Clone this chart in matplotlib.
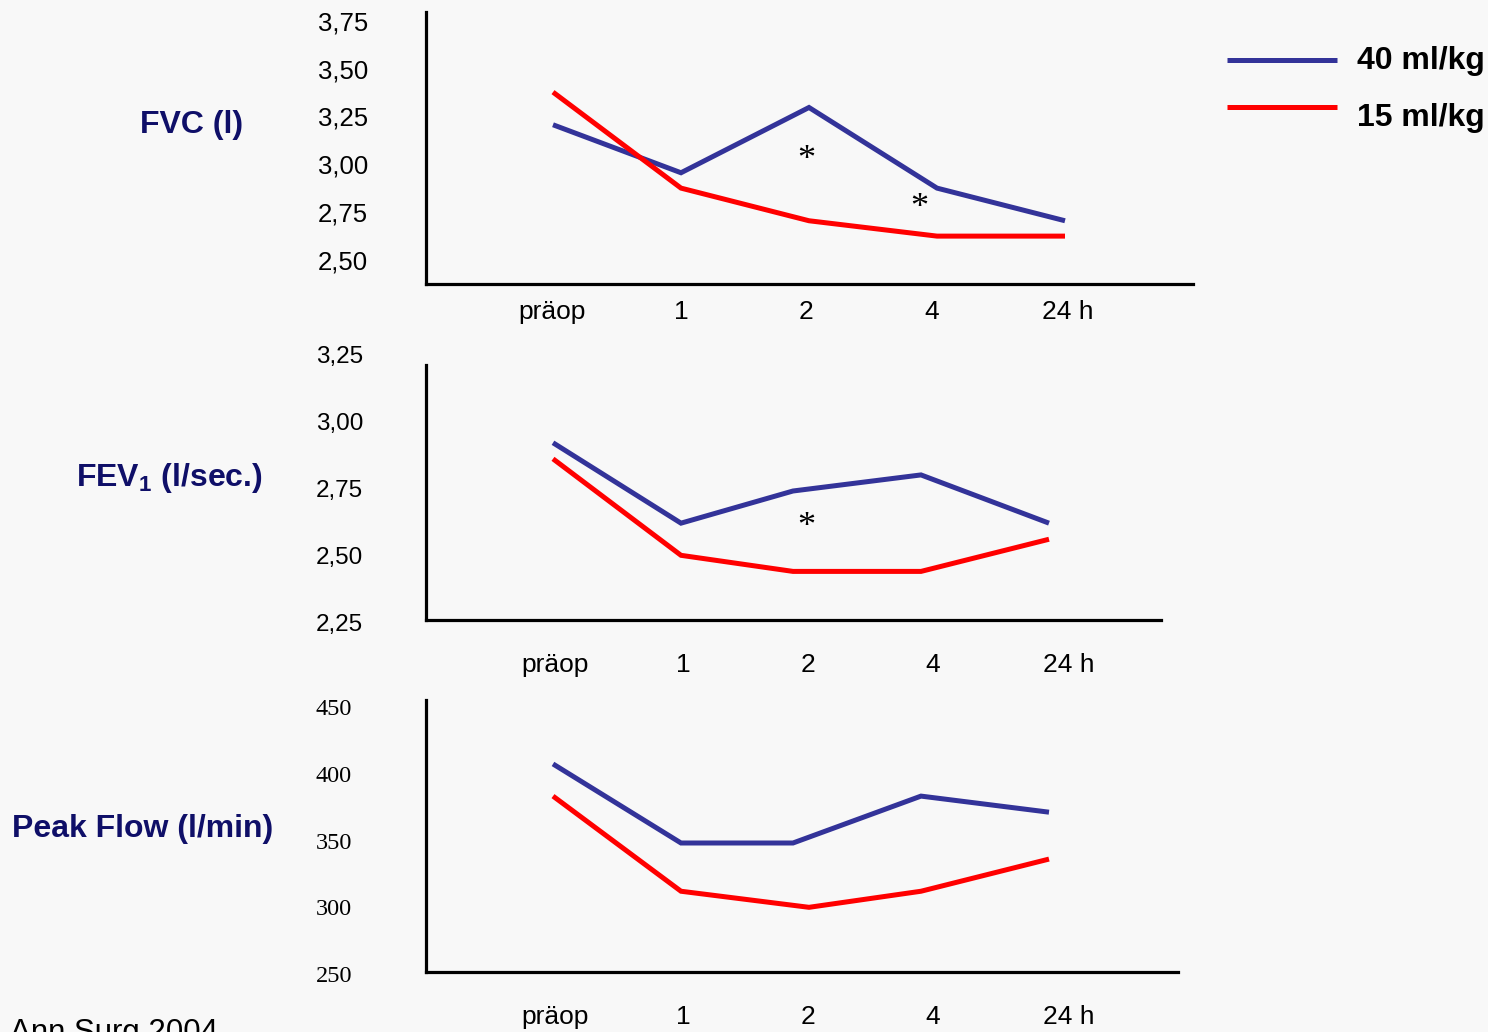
import matplotlib.pyplot as plt
from matplotlib.lines import Line2D

# data
times = ["präop", "1", "2", "4", "24 h"]
fvc_40 = [3.22, 2.97, 3.31, 2.89, 2.72]
fvc_15 = [3.39, 2.89, 2.72, 2.64, 2.64]
fev_40 = [2.93, 2.63, 2.75, 2.81, 2.63]
fev_15 = [2.87, 2.51, 2.45, 2.45, 2.57]
pef_40 = [409, 350, 350, 385, 373]
pef_15 = [385, 314, 302, 314, 338]
fvc_ticks = ["2,50", "2,75", "3,00", "3,25", "3,50", "3,75"]
fvc_tickvals = [2.50, 2.75, 3.00, 3.25, 3.50, 3.75]
fev_ticks = ["2,25", "2,50", "2,75", "3,00", "3,25"]
fev_tickvals = [2.25, 2.50, 2.75, 3.00, 3.25]
pef_ticks = ["250", "300", "350", "400", "450"]
pef_tickvals = [250, 300, 350, 400, 450]

# x positions of the time points (the original slide is not evenly spaced)
x_even = [0, 1, 2, 3, 4]
x_shift = [0, 1, 1.875, 2.875, 3.875]
x_shift_red = [0, 1, 2, 2.875, 3.875]

W, H = 1488, 1032
BG = "#f8f8f8"
BLUE = "#333399"
RED = "#ff0000"
NAVY = "#0f0f68"
SANS = "Liberation Sans"
SERIF = "Liberation Serif"

fig = plt.figure(figsize=(W / 100, H / 100), dpi=100, facecolor=BG)

def make_ax(left, top, right, bottom, ylim):
    # pixel box -> figure fraction, x data: 0 at px 553, 128 px per step
    ax = fig.add_axes([left / W, 1 - bottom / H, (right - left) / W, (bottom - top) / H])
    ax.set_facecolor("none")
    ax.set_xlim((left - 553) / 128, (right - 553) / 128)
    ax.set_ylim(*ylim)
    for s in ["top", "right"]:
        ax.spines[s].set_visible(False)
    for s in ["left", "bottom"]:
        ax.spines[s].set_linewidth(2.3)
        ax.spines[s].set_color("black")
    ax.set_yticks([])
    ax.tick_params(axis="x", length=0, labelsize=19)
    return ax

def ylabels(ax, vals, labels, xpx, left, width, font, size):
    tr = ax.get_yaxis_transform()
    for v, lab in zip(vals, labels):
        ax.text((xpx - left) / width, v, lab, transform=tr, ha="right", va="center",
                fontsize=size, family=font, clip_on=False)

def star(ax, x, y):
    ax.text(x, y, "*", ha="center", va="center", fontsize=26, family=SERIF)

# panel 1 - FVC
ax1 = make_ax(426, 12, 1193, 284, (2.3906, 3.8073))
ax1.plot(x_even, fvc_40, color=BLUE, lw=3.6, solid_joinstyle="miter", solid_capstyle="butt")
ax1.plot(x_even, fvc_15, color=RED, lw=3.6, solid_joinstyle="miter", solid_capstyle="butt")
ax1.set_xticks([-0.008, 1.0, 1.98, 2.96, 4.02], times, family=SANS)
ax1.tick_params(axis="x", pad=11.5)
ylabels(ax1, fvc_tickvals, fvc_ticks, 368, 426, 767, SANS, 18.5)
star(ax1, 1.98, 3.036)
star(ax1, 2.86, 2.786)

# panel 2 - FEV1
ax2 = make_ax(426, 365, 1161, 620, (2.2687, 3.2201))
ax2.plot(x_shift, fev_40, color=BLUE, lw=3.6, solid_joinstyle="miter", solid_capstyle="butt")
ax2.plot(x_shift, fev_15, color=RED, lw=3.6, solid_joinstyle="miter", solid_capstyle="butt")
ax2.set_xticks([0.016, 1.016, 1.99, 2.97, 4.03], times, family=SANS)
ax2.tick_params(axis="x", pad=24)
ylabels(ax2, fev_tickvals, fev_ticks, 363, 426, 735, SANS, 17.5)
star(ax2, 1.98, 2.612)

# panel 3 - Peak flow
ax3 = make_ax(426, 700, 1178, 972, (253.73, 456.72))
ax3.plot(x_shift, pef_40, color=BLUE, lw=3.6, solid_joinstyle="miter", solid_capstyle="butt")
ax3.plot(x_shift_red, pef_15, color=RED, lw=3.6, solid_joinstyle="miter", solid_capstyle="butt")
ax3.set_xticks([0.016, 1.016, 1.99, 2.97, 4.03], times, family=SANS)
ax3.tick_params(axis="x", pad=24)
ylabels(ax3, pef_tickvals, pef_ticks, 352, 426, 752, SERIF, 17.5)

# row titles
fig.text(192 / W, 1 - 125 / H, "FVC (l)", ha="center", va="center", fontsize=23,
         fontweight="bold", color=NAVY, family=SANS)
fig.text(169 / W, 1 - 478 / H, "FEV$_\\mathregular{1}$ (l/sec.)", ha="center", va="center",
         fontsize=23, fontweight="bold", color=NAVY, family=SANS)
fig.text(143 / W, 1 - 829 / H, "Peak Flow (l/min)", ha="center", va="center", fontsize=23,
         fontweight="bold", color=NAVY, family=SANS)

# legend
for ypx, typx, col, lab in [(60, 61, BLUE, "40 ml/kg"), (107, 118, RED, "15 ml/kg")]:
    fig.add_artist(Line2D([1227 / W, 1337 / W], [1 - ypx / H, 1 - ypx / H], color=col,
                          lw=3.6, solid_capstyle="butt", transform=fig.transFigure))
    fig.text(1357 / W, 1 - typx / H, lab, ha="left", va="center", fontsize=23,
             fontweight="bold", color="black", family=SANS)

fig.text(10 / W, 1 - 1018 / H, "Ann Surg 2004", ha="left", va="top", fontsize=22.5,
         color="black", family=SANS)

fig.savefig("out.png", dpi=100, facecolor=BG)
